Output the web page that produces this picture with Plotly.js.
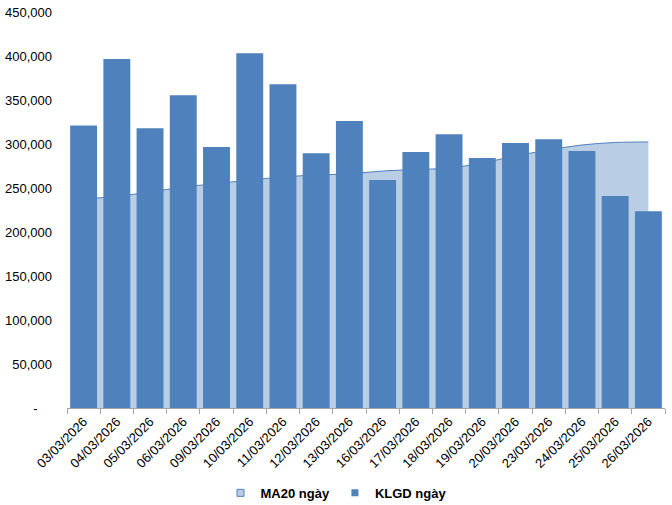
<!DOCTYPE html>
<html>
<head>
<meta charset="utf-8">
<script src="https://cdn.plot.ly/plotly-3.0.1.min.js"></script>
<style>html,body{margin:0;padding:0;background:#fff;}#chart{width:672px;height:505px;}</style>
</head>
<body>
<div id="chart"></div>
<script>
const categories = ["03/03/2026","04/03/2026","05/03/2026","06/03/2026","09/03/2026","10/03/2026","11/03/2026","12/03/2026","13/03/2026","16/03/2026","17/03/2026","18/03/2026","19/03/2026","20/03/2026","23/03/2026","24/03/2026","25/03/2026","26/03/2026"];
const klgd = [321000,396500,318000,355500,296500,403000,368000,289500,326000,259000,291000,311000,284000,301000,305500,292000,241000,223500];
const ma20 = [237500,240500,245500,251000,255000,259000,262500,264800,266000,269300,271000,272700,278400,286400,293200,298900,301700,302300];
const yTickVals = [0,50000,100000,150000,200000,250000,300000,350000,400000,450000];
const yTickText = ["-\u00a0\u00a0\u00a0\u00a0","50,000","100,000","150,000","200,000","250,000","300,000","350,000","400,000","450,000"];
const seriesNames = ["MA20 ngày", "KLGD ngày"];

const baseFont = "Arial, 'Liberation Sans', sans-serif";

const traces = [
  {
    type: "scatter", mode: "lines", name: seriesNames[0], showlegend: false,
    x: categories, y: ma20, xaxis: "x", yaxis: "y",
    line: {color: "#4f81bd", width: 1, shape: "spline"},
    fill: "tozeroy", fillcolor: "#b9cde5"
  },
  {
    type: "bar", name: seriesNames[1], showlegend: false,
    x: categories, y: klgd, xaxis: "x", yaxis: "y2",
    marker: {color: "#4f81bd"}
  },
  // legend entries (no marks drawn)
  {
    type: "scatter", mode: "markers", name: seriesNames[0],
    x: categories, y: categories.map(() => null), xaxis: "x", yaxis: "y",
    marker: {symbol: "square", size: 7, color: "#b9cde5", line: {color: "#4f81bd", width: 1}}
  },
  {
    type: "scatter", mode: "markers", name: seriesNames[1],
    x: categories, y: categories.map(() => null), xaxis: "x", yaxis: "y",
    marker: {symbol: "square", size: 7, color: "#4f81bd", line: {color: "#4f81bd", width: 0}}
  }
];

const layout = {
  width: 672, height: 505,
  margin: {l: 67, r: 7, t: 12, b: 97},
  paper_bgcolor: "#fff", plot_bgcolor: "#fff",
  font: {family: baseFont, size: 12, color: "#000"},
  bargap: 0.19,
  showlegend: true,
  legend: {orientation: "h", x: 0.5, xanchor: "center", xref: "container",
           y: 0.024, yanchor: "middle", yref: "container",
           font: {family: baseFont, size: 13, color: "#000", weight: "bold"},
           traceorder: "normal", itemwidth: 30},
  xaxis: {
    type: "category", range: [-0.5, categories.length - 0.5],
    showgrid: false, zeroline: false, automargin: false,
    showline: true, linecolor: "#a6a6a6", linewidth: 1,
    ticks: "outside", tickson: "boundaries", ticklen: 5, tickcolor: "#a6a6a6",
    tickangle: -45, tickfont: {family: baseFont, size: 13, color: "#000"}
  },
  yaxis: {
    range: [0, 450000], showgrid: false, zeroline: false, showline: false, automargin: false,
    tickvals: yTickVals, ticktext: yTickText, ticks: "",
    ticklabelstandoff: 14, tickfont: {family: baseFont, size: 13, color: "#000"}
  },
  yaxis2: {
    range: [0, 450000], overlaying: "y", visible: false, showgrid: false, zeroline: false
  }
};

Plotly.newPlot("chart", traces, layout, {displayModeBar: false, staticPlot: true});
</script>
</body>
</html>
